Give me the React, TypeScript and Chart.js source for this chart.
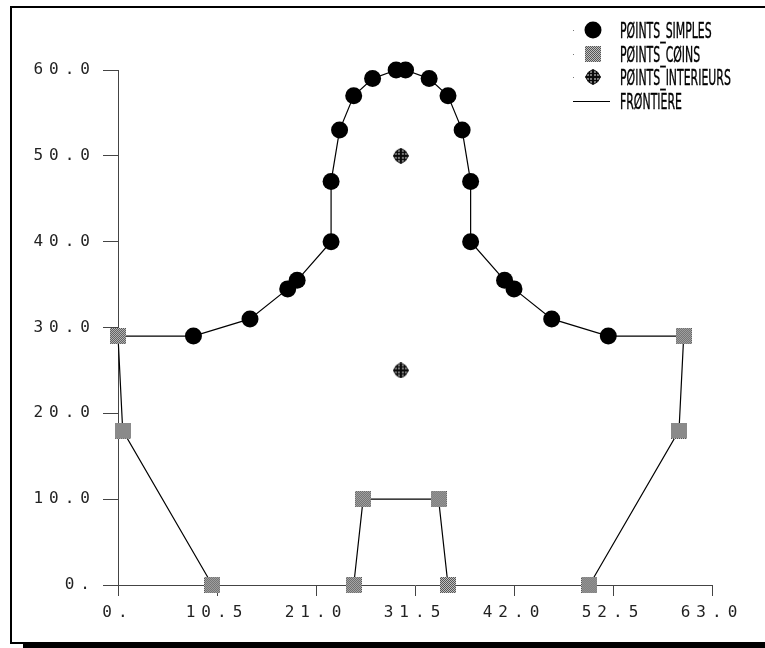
import React, { useEffect, useRef } from 'react';
import { Chart, registerables } from 'chart.js';
Chart.register(...registerables);

// ---- data ----
const SIMPLE_X = [8, 14, 18, 19, 22.6, 22.6, 23.5, 25, 27, 29.5, 30.5, 33, 35, 36.5, 37.4, 37.4, 41, 42, 46, 52];
const SIMPLE_Y = [29, 31, 34.5, 35.5, 40, 47, 53, 57, 59, 60, 60, 59, 57, 53, 47, 40, 35.5, 34.5, 31, 29];
const CORNER_X = [0, 0.5, 10, 25, 26, 34, 35, 50, 59.5, 60];
const CORNER_Y = [29, 18, 0, 0, 10, 10, 0, 0, 18, 29];
const INTERIOR_X = [30, 30];
const INTERIOR_Y = [50, 25];
const OUTER_X = [10, 0.5, 0, 8, 14, 18, 19, 22.6, 22.6, 23.5, 25, 27, 29.5, 30.5, 33, 35, 36.5, 37.4, 37.4, 41, 42, 46, 52, 60, 59.5, 50];
const OUTER_Y = [0, 18, 29, 29, 31, 34.5, 35.5, 40, 47, 53, 57, 59, 60, 60, 59, 57, 53, 47, 40, 35.5, 34.5, 31, 29, 29, 18, 0];
const INNER_X = [25, 26, 34, 35];
const INNER_Y = [0, 10, 10, 0];
const X_TICKS = [0, 10.5, 21, 31.5, 42, 52.5, 63];
const X_TICK_LABELS = ['0.', '10.5', '21.0', '31.5', '42.0', '52.5', '63.0'];
const Y_TICKS = [0, 10, 20, 30, 40, 50, 60];
const Y_TICK_LABELS = ['0.', '10.0', '20.0', '30.0', '40.0', '50.0', '60.0'];
const LABELS = ['PØINTS_SIMPLES', 'PØINTS_CØINS', 'PØINTS_INTERIEURS', 'FRØNTIERE'];

const zip = (xs: number[], ys: number[]) => xs.map((x, i) => ({ x, y: ys[i] }));

function makeSquare(): HTMLCanvasElement {
  const c = document.createElement('canvas');
  c.width = 16; c.height = 16;
  const g = c.getContext('2d')!;
  for (let i = 0; i < 16; i++) {
    for (let j = 0; j < 16; j++) {
      const a = i % 4, b = j % 4;
      const ring = (a === 0 || a === 2) !== (b === 0 || b === 2);
      g.fillStyle = ring ? '#555555' : ((i + j) % 2 === 0 ? '#c0c0c0' : '#e8e8e8');
      g.fillRect(i, j, 1, 1);
    }
  }
  return c;
}

function diamondPath(g: CanvasRenderingContext2D) {
  g.beginPath();
  g.moveTo(8, 0.5); g.lineTo(12.5, 3); g.lineTo(15.5, 8); g.lineTo(12.5, 13); g.lineTo(8, 15.5);
  g.lineTo(3.5, 13); g.lineTo(0.5, 8); g.lineTo(3.5, 3); g.closePath();
}

function makeInterior(): HTMLCanvasElement {
  const c = document.createElement('canvas');
  c.width = 16; c.height = 16;
  const g = c.getContext('2d')!;
  g.save();
  diamondPath(g);
  g.fillStyle = '#7a7a7a';
  g.fill();
  g.clip();
  g.fillStyle = '#0a0a0a';
  for (const p of [4, 7, 8, 11]) {
    g.fillRect(p, 0, 1, 16);
    g.fillRect(0, p, 16, 1);
  }
  g.restore();
  g.strokeStyle = '#111';
  g.lineWidth = 1;
  diamondPath(g);
  g.stroke();
  return c;
}

export default function App() {
  const ref = useRef<HTMLCanvasElement>(null);
  useEffect(() => {
    const square = makeSquare();
    const interior = makeInterior();

    const framePlugin = {
      id: 'frame',
      beforeDraw(chart: any) {
        const ctx = chart.ctx;
        ctx.save();
        ctx.fillStyle = '#000';
        ctx.fillRect(10, 6, 755, 2);
        ctx.fillRect(10, 6, 2, 638);
        ctx.fillRect(10, 642, 755, 2);
        ctx.fillRect(23, 642, 742, 6);
        ctx.restore();
        (ctx as any).letterSpacing = '6px';
      },
      beforeDatasetsDraw(chart: any) {
        (chart.ctx as any).letterSpacing = '0px';
      },
    };

    const legendPlugin = {
      id: 'customLegend',
      afterDraw(chart: any) {
        const ctx = chart.ctx;
        (ctx as any).letterSpacing = '0px';
        const mx = 593;
        const rows = [30, 54, 77, 101];
        ctx.save();
        ctx.fillStyle = '#000';
        ctx.beginPath();
        ctx.arc(mx, rows[0], 8.5, 0, Math.PI * 2);
        ctx.fill();
        ctx.drawImage(square, mx - 8, rows[1] - 8);
        ctx.drawImage(interior, mx - 8, rows[2] - 8);
        ctx.strokeStyle = '#000';
        ctx.lineWidth = 1;
        ctx.beginPath();
        ctx.moveTo(573, rows[3] + 0.5);
        ctx.lineTo(610, rows[3] + 0.5);
        ctx.stroke();
        ctx.fillStyle = '#777';
        for (let i = 0; i < 3; i++) ctx.fillRect(573, rows[i], 1, 1);
        ctx.fillStyle = '#000';
        ctx.strokeStyle = '#000';
        ctx.lineWidth = 0.4;
        ctx.font = '21px "DejaVu Sans"';
        ctx.textBaseline = 'alphabetic';
        ctx.textAlign = 'left';
        LABELS.forEach((t, i) => {
          ctx.save();
          ctx.translate(620, rows[i] + 7.5);
          ctx.scale(0.52, 1);
          ctx.fillText(t, 0, 0);
          ctx.strokeText(t, 0, 0);
          ctx.restore();
        });
        ctx.restore();
      },
    };

    const chart = new Chart(ref.current!, {
      type: 'scatter',
      data: {
        datasets: [
          {
            label: LABELS[0],
            data: zip(SIMPLE_X, SIMPLE_Y),
            pointStyle: 'circle',
            pointRadius: 8.5,
            pointBackgroundColor: '#000',
            pointBorderWidth: 0,
            order: 1,
            clip: false,
          } as any,
          {
            label: LABELS[1],
            data: zip(CORNER_X, CORNER_Y),
            pointStyle: square,
            pointRadius: 8,
            order: 2,
            clip: false,
          },
          {
            label: LABELS[2],
            data: zip(INTERIOR_X, INTERIOR_Y),
            pointStyle: interior,
            pointRadius: 8,
            order: 2,
            clip: false,
          },
          {
            label: LABELS[3],
            data: zip(OUTER_X, OUTER_Y),
            showLine: true,
            borderColor: '#000',
            borderWidth: 1.2,
            pointRadius: 0,
            order: 5,
            clip: false,
          },
          {
            label: LABELS[3],
            data: zip(INNER_X, INNER_Y),
            showLine: true,
            borderColor: '#000',
            borderWidth: 1.2,
            pointRadius: 0,
            order: 5,
            clip: false,
          },
        ],
      },
      options: {
        responsive: false,
        animation: false,
        layout: { padding: { left: 0, right: 53, top: 70, bottom: 0 } },
        plugins: { legend: { display: false }, tooltip: { enabled: false } },
        scales: {
          x: {
            type: 'linear',
            min: 0,
            max: 63,
            afterFit: (s: any) => { s.height = 63; },
            afterBuildTicks: (s: any) => { s.ticks = X_TICKS.map((v) => ({ value: v })); },
            ticks: {
              callback: (v: any) => X_TICK_LABELS[X_TICKS.indexOf(Number(v))] ?? '',
              color: '#222',
              font: { family: '"DejaVu Sans Mono"', size: 16 },
              padding: 7,
              maxRotation: 0,
              autoSkip: false,
            },
            grid: { drawOnChartArea: false, drawTicks: true, tickLength: 11, color: '#444', lineWidth: 1 },
            border: { display: true, color: '#444', width: 1 },
          },
          y: {
            type: 'linear',
            min: 0,
            max: 60,
            afterFit: (s: any) => { s.width = 118; },
            afterBuildTicks: (s: any) => { s.ticks = Y_TICKS.map((v) => ({ value: v })); },
            ticks: {
              callback: (v: any) => Y_TICK_LABELS[Y_TICKS.indexOf(Number(v))] ?? '',
              color: '#222',
              font: { family: '"DejaVu Sans Mono"', size: 16 },
              padding: 7,
              autoSkip: false,
            },
            grid: { drawOnChartArea: false, drawTicks: true, tickLength: 15, color: '#444', lineWidth: 1 },
            border: { display: true, color: '#444', width: 1 },
          },
        },
      },
      plugins: [framePlugin, legendPlugin],
    } as any);
    return () => chart.destroy();
  }, []);

  return (
    <div style={{ position: 'absolute', left: 0, top: 0, width: 765, height: 648, background: '#fff' }}>
      <canvas ref={ref} width={765} height={648} style={{ display: 'block' }} />
    </div>
  );
}
